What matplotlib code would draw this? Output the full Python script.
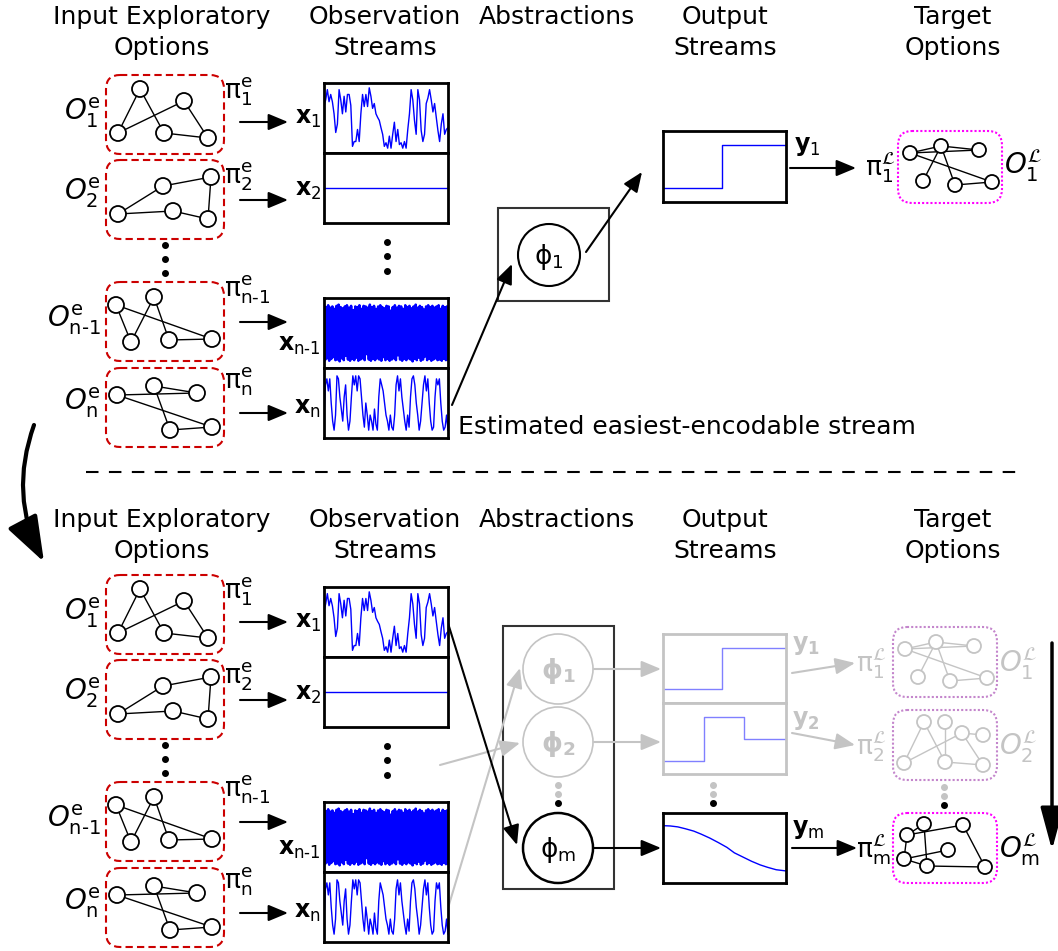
import numpy as np
import matplotlib
matplotlib.use('Agg')
import matplotlib.pyplot as plt
import matplotlib.patches as mpatches

W, H = 1058, 951

# ---- signal data (values 0..1 inside each box) ----
x1_vals = [.69, .8, .97, .77, .89, .77, .57, .26, .4, .97, .8, .57, .86, .6, .89, .89, .71,
           .03, .11, .11, .31, .11, .57, .89, .69, .89, .69, 1.0, .86, .66, .74, .57, .51,
           .46, .34, .23, .03, .09, 0.0, .2, 0.0, .23, .43, .11, .31, .06, .09, 0.0, .11,
           0.0, .31, .57, .97, .8, .46, .23, .97, .8, .29, .11, .23, .74, .83, .97, .8, .6,
           .74, .51, .29, .11, .4, .57, .23, .31, .34]
x2_vals = [.5, .5]
xnm1_hi = [.95, .93, .96, .92, .94, .9, .95, .97, .93, .91, .94, .96, .92, .95, .88, .94, .93,
           .96, .9, .95, .94, .92, .97, .93, .95, .9, .94, .96, .93, .91, .95, .94, .87, .93,
           .96, .92, .95, .94, .9, .96, .93, .95, .91, .94, .97, .92, .95, .93, .89, .94, .96,
           .93, .95, .92, .94, .96, .9, .95, .93, .94]
xnm1_lo = [.05, .08, .04, .07, .1, .05, .06, .03, .08, .05, .12, .06, .04, .07, .05, .09, .04,
           .06, .08, .05, .15, .06, .04, .07, .05, .08, .06, .04, .1, .05, .07, .04, .06, .08,
           .05, .13, .06, .04, .07, .05, .08, .06, .03, .07, .05, .09, .04, .06, .11, .05, .07,
           .04, .06, .08, .05, .06, .04, .07, .05, .06]
xn_vals = [.3, .8, .9, .7, .9, .5, .2, .05, .3, .95, .9, .6, .4, .2, .6, .8, .3, .05, .2, .6,
           .95, .8, .95, .7, .95, .9, .6, .3, .1, .5, .3, .05, .3, .2, .05, .4, .15, .05, .6,
           .9, .8, .7, .5, .3, .2, .05, .3, .1, .05, .3, .8, .95, .7, .9, .6, .4, .2, .05, .3,
           .1, .6, .9, .95, .8, .5, .3, .05, .2, .5, .8, .95, .7, .9, .5, .2, .05, .1, .6, .9,
           .8, .9, .5, .2, .05, .1, .3, .05]

y1_t = [0, .48, 1]
y1_v = [.15, .85, .85]
y2_t = [0, .33, .66, 1]
y2_v = [.14, .85, .49, .49]
ym_t = [0, .06, .12, .18, .25, .31, .38, .45, .52, .58, .65, .72, .79, .85, .92, 1]
ym_v = [.87, .865, .85, .82, .78, .73, .665, .59, .51, .42, .35, .28, .22, .18, .14, .12]

# ---- graph layouts (node positions relative to box corner, edges) ----
g_opt1 = ([(34, 14), (78, 26), (12, 58), (58, 58), (102, 63)],
          [(2, 0), (0, 3), (2, 1), (1, 4), (3, 4)])
g_opt2 = ([(57, 26), (105, 17), (12, 54), (67, 51), (102, 59)],
          [(2, 0), (0, 1), (1, 4), (2, 3), (3, 4)])
g_optn1 = ([(10, 23), (48, 15), (25, 60), (63, 58), (106, 57)],
           [(0, 2), (2, 1), (1, 3), (0, 4), (3, 4)])
g_optn = ([(11, 27), (48, 18), (91, 25), (64, 62), (106, 59)],
          [(0, 2), (1, 2), (1, 3), (0, 4), (3, 4)])
g_tgt1 = ([(12, 22), (43, 15), (81, 19), (25, 50), (57, 54), (94, 51)],
          [(0, 1), (1, 2), (0, 2), (1, 3), (1, 4), (0, 5), (4, 5)])
g_tgt2 = ([(31, 12), (52, 12), (69, 23), (90, 25), (11, 53), (52, 52), (90, 55)],
          [(4, 0), (0, 5), (1, 5), (4, 2), (2, 3), (2, 6), (5, 6)])
g_tgtm = ([(14, 22), (31, 11), (70, 12), (55, 37), (11, 46), (34, 53), (92, 54)],
          [(0, 1), (0, 4), (0, 2), (1, 5), (4, 3), (4, 5), (2, 6), (5, 6)])

header_top = [('Input Exploratory', 'Options', 162), ('Observation', 'Streams', 385),
              ('Abstractions', None, 557), ('Output', 'Streams', 725), ('Target', 'Options', 953)]

RED = '#cc0000'
MAG = '#ff00ff'
MAG_L = '#c486cc'
GRAY = '#c4c4c4'
BLUE = '#0000ff'
BLUE_L = '#8080ff'

fig = plt.figure(figsize=(W / 100, H / 100), dpi=100)
ax = fig.add_axes([0, 0, 1, 1])
ax.set_xlim(0, W)
ax.set_ylim(H, 0)
ax.axis('off')


def panel(x0, y0, w, h, edge='black', lw=2):
    a = fig.add_axes([x0 / W, 1 - (y0 + h) / H, w / W, h / H])
    a.set_xticks([])
    a.set_yticks([])
    for s in a.spines.values():
        s.set_linewidth(lw)
        s.set_edgecolor(edge)
    a.set_ylim(-0.08, 1.08)
    return a


def arrow(p, q, color='black', lw=1.5, hl=0.6, hw=0.25, ms=20):
    ax.annotate('', xy=q, xytext=p,
                arrowprops=dict(arrowstyle='-|>,head_length=%g,head_width=%g' % (hl, hw),
                                color=color, lw=lw, mutation_scale=ms, shrinkA=0, shrinkB=0))


def graph(x0, y0, layout, r=8, color='black', lw=1.0):
    nodes, edges = layout
    for i, j in edges:
        ax.plot([x0 + nodes[i][0], x0 + nodes[j][0]], [y0 + nodes[i][1], y0 + nodes[j][1]],
                color=color, lw=lw, zorder=2)
    for nx, ny in nodes:
        ax.add_patch(mpatches.Circle((x0 + nx, y0 + ny), r, fc='white', ec=color, lw=1.3, zorder=3))


def rbox(x0, y0, w, h, color, ls, lw=1.5):
    ax.add_patch(mpatches.FancyBboxPatch((x0, y0), w, h, boxstyle='round,pad=0,rounding_size=14',
                                         fill=False, ec=color, ls=ls, lw=lw, zorder=1))


def vdots(x, ys, colors):
    for y, c in zip(ys, colors):
        ax.plot(x, y, 'o', ms=4, color=c, zorder=4)


def stream(x0, y0, vals, lw=1.0):
    a = panel(x0, y0, 124, 70)
    a.plot(np.arange(len(vals)), vals, color=BLUE, lw=lw)
    a.set_xlim(0, len(vals) - 1)
    return a


def sub(s):
    return s.replace('-', r'\text{-}')


FS = 18
# ---- headers ----
for dy in (0, 503):
    for l1, l2, cx in header_top:
        ax.text(cx, 17 + dy, l1, ha='center', va='center', fontsize=FS)
        if l2:
            ax.text(cx, 48 + dy, l2, ha='center', va='center', fontsize=FS)

# ---- left column (both halves) ----
opt_layouts = [g_opt1, g_opt2, g_optn1, g_optn]
opt_y = [75, 160, 282, 368]
opt_names = ['1', '2', 'n-1', 'n']
o_lab_y = [113, 193, 320, 403]
pi_lab_y = [92, 177, 290, 382]
arr_y = [122, 200, 322, 413]
x_lab_y = [118, 190, 345, 408]
stream_y = [83, 153, 298, 368]
xn_series = np.ravel(np.column_stack([xnm1_hi, xnm1_lo]))

for half, dy in enumerate((0, 500)):
    sdy = 0 if half == 0 else 504
    for k in range(4):
        oy = opt_y[k] + dy
        nm = sub(opt_names[k])
        rbox(106, oy, 118, 79, RED, (0, (3.5, 2)))
        graph(106, oy, opt_layouts[k])
        ax.text(101, o_lab_y[k] + dy, r'$O^{\mathrm{e}}_{\mathrm{%s}}$' % nm,
                ha='right', va='center', fontsize=20)
        ax.text(224, pi_lab_y[k] + dy, r'$\mathrm{\pi}^{\mathrm{e}}_{\mathrm{%s}}$' % nm,
                ha='left', va='center', fontsize=19)
        arrow((240, arr_y[k] + dy), (288, arr_y[k] + dy))
        ax.text(321, x_lab_y[k] + sdy, r'$\mathbf{x}_{\mathrm{%s}}$' % nm,
                ha='right', va='center', fontsize=17)
    vdots(165, [245 + dy, 259 + dy, 273 + dy], ['black'] * 3)
    vdots(387, [242 + sdy, 256 + sdy, 271 + sdy], ['black'] * 3)
    stream(324, stream_y[0] + sdy, x1_vals)
    stream(324, stream_y[1] + sdy, x2_vals)
    stream(324, stream_y[2] + sdy, xn_series, lw=1.8)
    stream(324, stream_y[3] + sdy, xn_vals)

# ---- top: abstraction, output, target ----
ax.add_patch(mpatches.Rectangle((498, 208), 111, 93, fill=False, ec='#333333', lw=1.5))
ax.add_patch(mpatches.Circle((549, 255), 31, fill=False, ec='black', lw=1.5))
ax.text(549, 257, r'$\mathrm{\phi}_1$', ha='center', va='center', fontsize=19)
arrow((452, 405), (512, 264))
arrow((586, 252), (642, 172))
a = panel(663, 131, 123, 71)
a.step(y1_t, y1_v, where='post', color=BLUE, lw=1.0)
a.set_xlim(0, 1)
ax.text(794, 146, r'$\mathbf{y}_1$', ha='left', va='center', fontsize=17)
arrow((790, 168), (856, 168))
ax.text(865, 168, r'$\mathrm{\pi}^{\mathcal{L}}_1$', ha='left', va='center', fontsize=19)
rbox(898, 131, 104, 72, MAG, (0, (1, 1)))
graph(898, 131, g_tgt1, r=7, lw=1.0)
ax.text(1004, 166, r'$O^{\mathcal{L}}_1$', ha='left', va='center', fontsize=20)
ax.text(458, 427, 'Estimated easiest-encodable stream', ha='left', va='center', fontsize=FS)

# ---- separator & flow arrows ----
ax.plot([86, 1022], [472, 472], color='black', lw=1.5, ls=(0, (6, 5)))
ax.annotate('', xy=(44, 562), xytext=(34, 425),
            arrowprops=dict(arrowstyle='-|>,head_length=1.4,head_width=0.5', color='black',
                            lw=3, mutation_scale=20, shrinkA=0, shrinkB=0,
                            connectionstyle='arc3,rad=0.22'))
arrow((1052, 643), (1052, 850), lw=2.5, hl=1.3, hw=0.35)

# ---- bottom: abstractions ----
ax.add_patch(mpatches.Rectangle((503, 626), 111, 263, fill=False, ec='#333333', lw=1.5))
for cy, lab, col in [(669, '1', GRAY), (742, '2', GRAY)]:
    ax.add_patch(mpatches.Circle((558, cy), 35, fill=False, ec=GRAY, lw=1.2))
    ax.text(558, cy + 2, r'$\mathbf{\phi_%s}$' % lab, ha='center', va='center', fontsize=19,
            color=col)
ax.add_patch(mpatches.Circle((558, 848), 35, fill=False, ec='black', lw=1.8))
ax.text(558, 850, r'$\mathrm{\phi}_{\mathrm{m}}$', ha='center', va='center', fontsize=19)
vdots(558, [785, 794, 803], [GRAY, GRAY, 'black'])

arrow((448, 908), (520, 668), color=GRAY)
arrow((440, 765), (520, 743), color=GRAY)
arrow((447, 620), (517, 845))
arrow((594, 669), (661, 669), color=GRAY)
arrow((594, 742), (661, 742), color=GRAY)
arrow((594, 848), (661, 848))

# ---- bottom: output streams ----
a = panel(663, 634, 123, 69, edge=GRAY)
a.step(y1_t, y1_v, where='post', color=BLUE_L, lw=1.0)
a.set_xlim(0, 1)
a = panel(663, 703, 123, 71, edge=GRAY)
a.step(y2_t, y2_v, where='post', color=BLUE_L, lw=1.0)
a.set_xlim(0, 1)
a = panel(663, 813, 123, 70)
a.plot(ym_t, ym_v, color=BLUE, lw=1.0)
a.set_xlim(0, 1)
vdots(713, [785, 794, 803], [GRAY, GRAY, 'black'])

ax.text(792, 645, r'$\mathbf{y_1}$', ha='left', va='center', fontsize=17, color=GRAY)
ax.text(792, 720, r'$\mathbf{y_2}$', ha='left', va='center', fontsize=17, color=GRAY)
ax.text(792, 829, r'$\mathbf{y}_{\mathrm{m}}$', ha='left', va='center', fontsize=17)
arrow((792, 673), (855, 663), color=GRAY)
arrow((792, 733), (855, 745), color=GRAY)
arrow((792, 848), (857, 848))

# ---- bottom: target options ----
for ty, lab, col, ec, layout in [(627, '1', GRAY, MAG_L, g_tgt1), (710, '2', GRAY, MAG_L, g_tgt2),
                                 (813, 'm', 'black', MAG, g_tgtm)]:
    rbox(893, ty, 104, 70, ec, (0, (1, 1)))
    graph(893, ty, layout, r=7, color=col, lw=1.0)
    ax.text(856, ty + 37, r'$\mathrm{\pi}^{\mathcal{L}}_{\mathrm{%s}}$' % lab, ha='left',
            va='center', fontsize=19, color=col)
    ax.text(999, ty + 37, r'$O^{\mathcal{L}}_{\mathrm{%s}}$' % lab, ha='left', va='center',
            fontsize=20, color=col)
vdots(944, [787, 796, 805], [GRAY, GRAY, 'black'])

fig.savefig('out.png', dpi=100)
